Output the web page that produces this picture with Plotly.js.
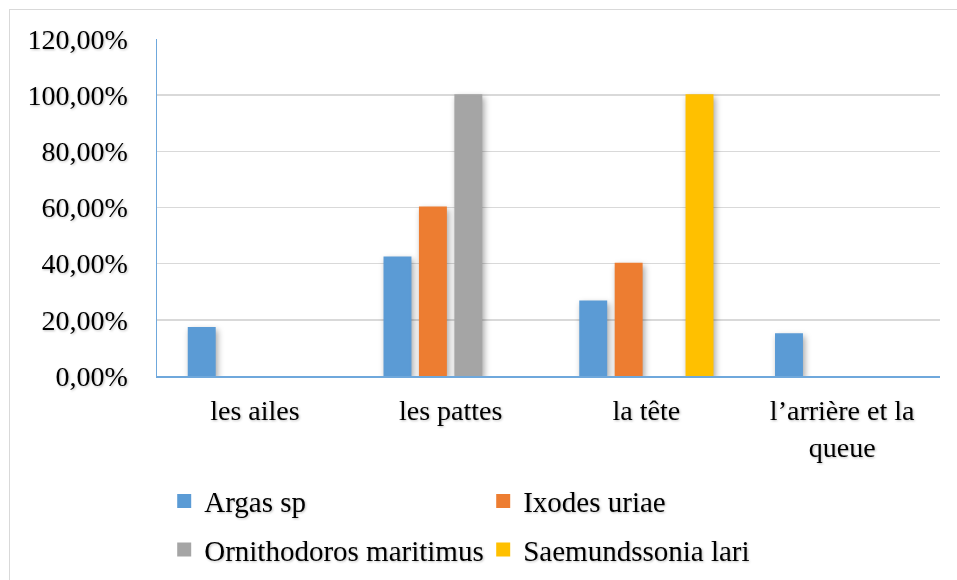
<!DOCTYPE html>
<html>
<head>
<meta charset="utf-8">
<script src="https://cdn.plot.ly/plotly-3.0.1.min.js"></script>
<style>
  html, body { margin: 0; padding: 0; background: #ffffff; }
  #chart-frame { position: relative; width: 957px; height: 580px; overflow: hidden; }
  #chart { width: 957px; height: 580px; }
  #chart-border {
    position: absolute; left: 9px; top: 9px; width: 980px; height: 620px;
    border: 1.5px solid #d9d9d9; pointer-events: none;
  }
  #chart .trace.bars path { filter: drop-shadow(2px 3px 3px rgba(0, 0, 0, 0.35)); }
  #chart text { filter: drop-shadow(1px 1px 1px rgba(0, 0, 0, 0.25)); }
  #chart .legendtext {
    font-family: 'Liberation Serif', 'Times New Roman', serif !important;
    font-size: 29px !important;
  }
</style>
</head>
<body>
<div id="chart-frame">
  <div id="chart"></div>
  <div id="chart-border"></div>
</div>
<script>
(function () {
  "use strict";

  const CATEGORIES = ["les ailes", "les pattes", "la tête", "l’arrière et la<br>queue"];
  const ARGAS = [0.171, 0.422, 0.265, 0.149];
  const IXODES = [null, 0.60, 0.40, null];
  const ORNITHODOROS = [null, 1.00, null, null];
  const SAEMUNDSSONIA = [null, null, 1.00, null];
  const Y_TICKS = [0, 0.2, 0.4, 0.6, 0.8, 1.0, 1.2];

  const FONT = "'Liberation Serif', 'Times New Roman', serif";

  function makeTrace(name, values, color, legendId) {
    return {
      type: "bar",
      name: name,
      x: CATEGORIES,
      y: values,
      legend: legendId,
      marker: { color: color, line: { color: color, width: 2 } },
      hoverinfo: "skip"
    };
  }

  const traces = [
    makeTrace("Argas sp", ARGAS, "#5b9bd5", "legend"),
    makeTrace("Ixodes uriae", IXODES, "#ed7d31", "legend"),
    makeTrace("Ornithodoros maritimus", ORNITHODOROS, "#a5a5a5", "legend2"),
    makeTrace("Saemundssonia lari", SAEMUNDSSONIA, "#ffc000", "legend2")
  ];

  function legendAt(y) {
    return {
      orientation: "h",
      xanchor: "left",
      yanchor: "middle",
      x: 0.0092,
      y: y,
      entrywidth: 274,
      bgcolor: "rgba(0,0,0,0)",
      borderwidth: 0,
      font: { family: FONT, size: 29, color: "#000000" },
      traceorder: "normal"
    };
  }

  const layout = {
    width: 957,
    height: 580,
    margin: { t: 39, r: 17, b: 204, l: 157, autoexpand: false },
    paper_bgcolor: "#ffffff",
    plot_bgcolor: "#ffffff",
    separators: ", ",
    font: { family: FONT, color: "#000000", size: 28 },
    barmode: "group",
    bargap: 0.276,
    bargroupgap: 0.268,
    showlegend: true,
    legend: legendAt(-0.371),
    legend2: legendAt(-0.515),
    xaxis: {
      type: "category",
      showgrid: false,
      showline: true,
      linecolor: "#6fa8dc",
      linewidth: 1.5,
      ticks: "",
      ticklabelstandoff: 9,
      tickfont: { family: FONT, size: 28, color: "#000000" },
      fixedrange: true
    },
    yaxis: {
      range: [0, 1.2],
      tickvals: Y_TICKS,
      tickformat: ".2%",
      showgrid: true,
      gridcolor: "#d9d9d9",
      gridwidth: 1.5,
      showline: true,
      linecolor: "#6fa8dc",
      linewidth: 1.5,
      zeroline: false,
      ticks: "",
      ticklabelstandoff: 22,
      tickfont: { family: FONT, size: 28, color: "#000000" },
      fixedrange: true
    }
  };

  window.Plotly.newPlot("chart", traces, layout, { displayModeBar: false, staticPlot: true });
})();
</script>
</body>
</html>
